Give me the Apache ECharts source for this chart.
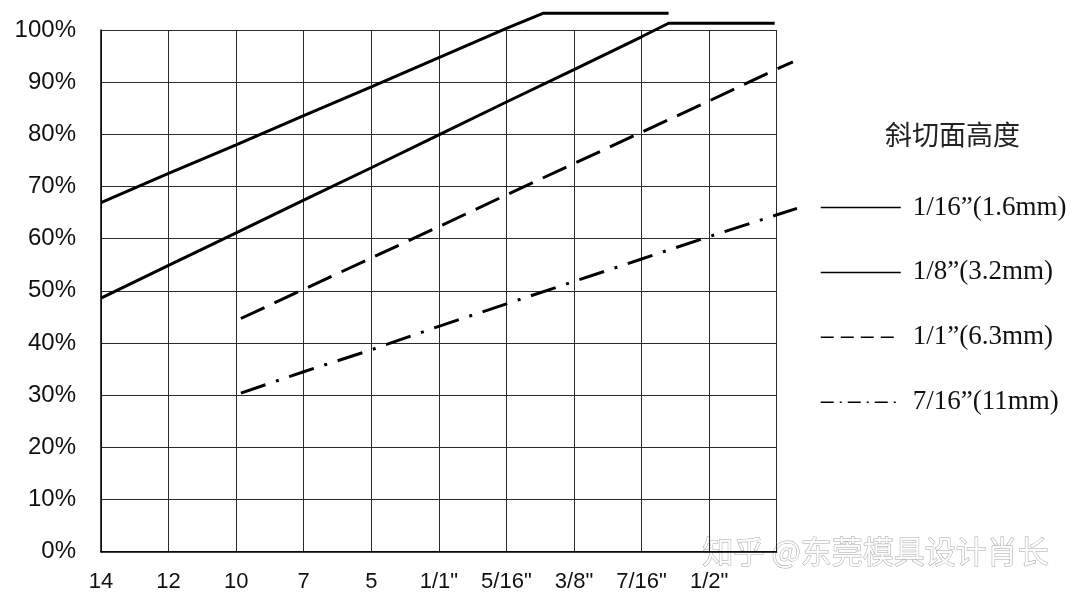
<!DOCTYPE html>
<html>
<head>
<meta charset="utf-8">
<script src="https://cdn.jsdelivr.net/npm/echarts@6/dist/echarts.min.js"></script>
<style>html,body{margin:0;padding:0;background:#fff;}#c{width:1080px;height:603px;}</style>
</head>
<body>
<div id="c"></div>
<script>
// Category tick labels (position index 0..10 on the x axis)
const categories = ['14', '12', '10', '7', '5', '1/1"', '5/16"', '3/8"', '7/16"', '1/2"', ''];
const seriesNames = ['1/16”(1.6mm)', '1/8”(3.2mm)', '1/1”(6.3mm)', '7/16”(11mm)'];
const legendTitle = '斜切面高度';

// x positions (in category-index units) and values (%)
const x116 = [0, 1, 2, 3, 4, 5, 6, 6.54, 8.40];
const y116 = [66.9, 72.5, 78.0, 83.6, 89.1, 94.7, 100.3, 103.2, 103.2];

const x18 = [0, 1, 2, 3, 4, 5, 6, 7, 8, 8.40, 9.97];
const y18 = [48.6, 54.9, 61.1, 67.4, 73.6, 79.9, 86.2, 92.4, 98.7, 101.3, 101.3];

const x11 = [2.07, 3, 4, 5, 6, 7, 8, 9, 10, 10.24];
const y11 = [44.7, 50.3, 56.3, 62.3, 68.4, 74.4, 80.4, 86.4, 92.5, 93.9];

const x716 = [2.07, 3, 4, 5, 6, 7, 8, 9, 10.3];
const y716 = [30.4, 34.5, 38.7, 43.2, 47.5, 51.8, 56.1, 60.4, 65.8];

const zip = (xs, ys) => xs.map((x, i) => [x, ys[i]]);

const chart = echarts.init(document.getElementById('c'), null, {renderer: 'canvas'});
const gridColor = '#2b2b2b';
const L = 101, R = 776.7, T = 30, B = 551.7;
const unit = (R - L) / 10;
const mk = (name, data, type) => ({
  name, type: 'line', data, symbol: 'none', clip: false, silent: true,
  xAxisIndex: 1, yAxisIndex: 1,
  lineStyle: {color: '#000', width: 3, type: type, cap: 'butt'},
  itemStyle: {color: '#000'}
});
chart.setOption({
  animation: false,
  backgroundColor: '#fff',
  grid: [
    {left: L, right: 1080 - R, top: T, bottom: 603 - B, containLabel: false},
    // same scale, extended to the right so lines can run past the frame
    {left: L, right: 1080 - (L + 11 * unit), top: T, bottom: 603 - B, containLabel: false}
  ],
  title: {
    text: legendTitle, left: 880, top: 116,
    textStyle: {fontFamily: 'Noto Sans CJK SC', fontWeight: 'normal', fontSize: 27, color: '#222'}
  },
  legend: {
    orient: 'vertical', left: 820, top: 194, padding: 0, itemGap: 37.9, itemWidth: 80, itemHeight: 26,
    itemStyle: {opacity: 0, color: 'rgba(0,0,0,0)', borderWidth: 0},
    textStyle: {fontFamily: 'Liberation Serif', fontSize: 27, color: '#111', padding: [0, 0, 0, 7]},
    data: [
      {name: seriesNames[0], lineStyle: {width: 1.5, type: 'solid'}},
      {name: seriesNames[1], lineStyle: {width: 1.5, type: 'solid'}},
      {name: seriesNames[2], lineStyle: {width: 1.5, type: [13, 7]}},
      {name: seriesNames[3], lineStyle: {width: 1.5, type: [13, 6, 2, 6]}}
    ]
  },
  xAxis: [{
    gridIndex: 0, type: 'value', min: 0, max: 10, interval: 1,
    axisLine: {show: true, lineStyle: {color: '#000', width: 1.5}},
    axisTick: {show: false},
    splitLine: {show: true, lineStyle: {color: gridColor, width: 1}},
    axisLabel: {
      margin: 19, fontFamily: 'Liberation Sans', fontSize: 22, color: '#111',
      formatter: v => categories[Math.round(v)] || ''
    }
  }, {
    gridIndex: 1, type: 'value', min: 0, max: 11, interval: 1, show: false
  }],
  yAxis: [{
    gridIndex: 0, type: 'value', min: 0, max: 100, interval: 10,
    axisLine: {show: true, lineStyle: {color: '#000', width: 1.5}},
    axisTick: {show: false},
    splitLine: {show: true, lineStyle: {color: gridColor, width: 1}},
    axisLabel: {
      margin: 25, fontFamily: 'Liberation Sans', fontSize: 24, color: '#111',
      formatter: '{value}%'
    }
  }, {
    gridIndex: 1, type: 'value', min: 0, max: 100, interval: 10, show: false
  }],
  graphic: [{
    type: 'text', left: 702, top: 535, silent: true,
    style: {
      text: '知乎 @东莞模具设计肖长', fontFamily: 'Noto Sans CJK SC', fontSize: 31,
      fill: 'rgba(255,255,255,0.9)', stroke: 'rgba(110,110,110,0.6)', lineWidth: 1
    }
  }],
  series: [
    mk(seriesNames[0], zip(x116, y116), 'solid'),
    mk(seriesNames[1], zip(x18, y18), 'solid'),
    mk(seriesNames[2], zip(x11, y11), [26, 11]),
    mk(seriesNames[3], zip(x716, y716), [26, 11, 3, 11])
  ]
});
</script>
</body>
</html>
